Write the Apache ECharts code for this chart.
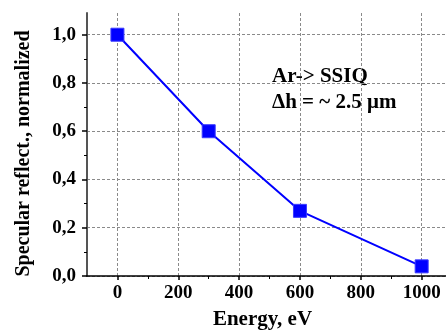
<!DOCTYPE html>
<html>
<head>
<meta charset="utf-8">
<script src="https://cdn.jsdelivr.net/npm/echarts@6/dist/echarts.min.js"></script>
<style>
  html, body { margin: 0; padding: 0; background: #fff; }
  #chart { width: 446px; height: 335px; }
</style>
</head>
<body>
<div id="chart"></div>
<script>
// Normalized specular reflectivity vs. ion energy
const energies = [0, 300, 600, 1000];
const reflect = [1.0, 0.6, 0.27, 0.04];

const xMajorTicks = [0, 200, 400, 600, 800, 1000];
const xMinorTicks = [100, 300, 500, 700, 900];
const yMajorTicks = [0, 0.2, 0.4, 0.6, 0.8, 1.0];
const yMinorTicks = [0.1, 0.3, 0.5, 0.7, 0.9];

const annotationLines = ['Ar-> SSIQ', '\u0394h = ~ 2.5 \u03bcm'];

const FONT = '"Liberation Serif", "Times New Roman", serif';
const gridDash = { color: '#8a8a8a', width: 1, type: [3, 2] };

const chart = echarts.init(document.getElementById('chart'), null, { renderer: 'canvas' });

const xRange = { min: -100, max: 1080 };
const yRange = { min: 0, max: 1.09 };

chart.setOption({
  animation: false,
  backgroundColor: '#ffffff',
  grid: { left: 87, right: 0, top: 13, bottom: 55, containLabel: false },
  xAxis: [
    {
      type: 'value', position: 'bottom', ...xRange,
      name: 'Energy, eV', nameLocation: 'middle', nameGap: 33,
      nameTextStyle: { fontFamily: FONT, fontWeight: 'bold', fontSize: 21, color: '#000', padding: [0, 8, 0, 0] },
      axisLine: { show: true, onZero: false, lineStyle: { color: '#000', width: 1.5 } },
      axisTick: { show: true, customValues: xMajorTicks, length: 4, lineStyle: { color: '#000', width: 1.5 } },
      axisLabel: {
        customValues: xMajorTicks, margin: 8,
        fontFamily: FONT, fontWeight: 'bold', fontSize: 19, color: '#000',
        formatter: v => String(v)
      },
      splitLine: { show: true, lineStyle: gridDash }
    },
    {
      type: 'value', position: 'bottom', ...xRange,
      axisLine: { show: false, onZero: false },
      axisTick: { show: true, customValues: xMinorTicks, length: 3, lineStyle: { color: '#000', width: 1 } },
      axisLabel: { show: false },
      splitLine: { show: false }
    }
  ],
  yAxis: [
    {
      type: 'value', position: 'left', ...yRange,
      name: 'Specular reflect., normalized', nameLocation: 'middle', nameGap: 53,
      nameTextStyle: { fontFamily: FONT, fontWeight: 'bold', fontSize: 20, color: '#000', padding: [0, 18, 0, 0] },
      axisLine: { show: true, onZero: false, lineStyle: { color: '#555', width: 2 } },
      axisTick: { show: true, customValues: yMajorTicks, length: 5, lineStyle: { color: '#000', width: 1.5 } },
      axisLabel: {
        customValues: yMajorTicks, margin: 11,
        fontFamily: FONT, fontWeight: 'bold', fontSize: 19, color: '#000',
        formatter: v => v.toFixed(1).replace('.', ',')
      },
      splitLine: { show: true, lineStyle: gridDash }
    },
    {
      type: 'value', position: 'left', ...yRange,
      axisLine: { show: false, onZero: false },
      axisTick: { show: true, customValues: yMinorTicks, length: 3, lineStyle: { color: '#000', width: 1 } },
      axisLabel: { show: false },
      splitLine: { show: false }
    }
  ],
  graphic: [
    {
      type: 'text', left: 272, top: 64, silent: true,
      style: {
        text: annotationLines.join('\n'),
        font: 'bold 21px ' + FONT, fill: '#000', lineHeight: 26
      }
    }
  ],
  series: [
    {
      type: 'line',
      xAxisIndex: 0, yAxisIndex: 0,
      data: energies.map((e, i) => [e, reflect[i]]),
      symbol: 'rect', symbolSize: 13,
      lineStyle: { color: '#0000ff', width: 2 },
      itemStyle: { color: '#0000ff', borderColor: '#3a3aff', borderWidth: 1 },
      z: 5
    }
  ]
});
</script>
</body>
</html>
